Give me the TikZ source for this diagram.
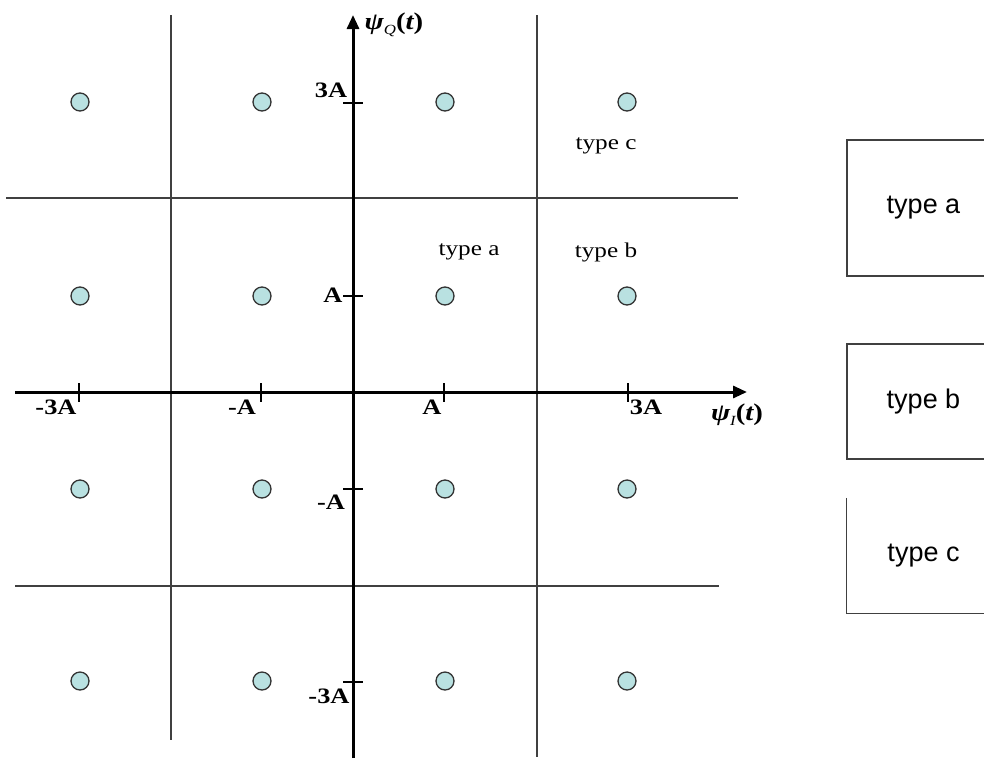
\documentclass[tikz,border=0pt]{standalone}
\usepackage{fontspec}
\setmainfont{Liberation Serif}[FakeStretch=1.2]
\newfontfamily\boxfont{Liberation Sans}
\usetikzlibrary{arrows.meta}
\definecolor{dotfill}{RGB}{185,225,225}
\tikzset{
  dot/.style={circle, draw=black!80, fill=dotfill, line width=1.3pt, minimum size=18pt, inner sep=0pt},
  gridline/.style={line width=1.3pt, black!75},
  axis/.style={line width=3pt, -{Triangle[length=14pt,width=12pt]}},
  tickmark/.style={line width=1.4pt},
  ampl/.style={font=\fontsize{22}{22}\selectfont\bfseries, inner sep=0pt},
  region/.style={font=\fontsize{21}{21}\selectfont, inner sep=0pt},
  typebox/.style={font=\boxfont\fontsize{27}{27}\selectfont, minimum width=153pt, inner sep=0pt},
}
\begin{document}
\begin{tikzpicture}[x=1pt,y=-1pt]
\useasboundingbox (0,0) rectangle (984,758);
% grid lines:
\draw[gridline] (171,15) -- (171,740);
\draw[gridline] (537,15) -- (537,757);
\draw[gridline] (6,198) -- (738,198);
\draw[gridline] (15,586) -- (719,586);
% axes:
\draw[axis] (15,392) -- (747,392);
\draw[axis] (353,758) -- (353,15);
\foreach \x in {79,261,444,628} \draw[tickmark] (\x,383) -- (\x,402);
\foreach \y in {103,296,489,682} \draw[tickmark] (343,\y) -- (363,\y);
% amplitude labels:
\node[ampl] (xm3) at (56,407) {-3A};
\node[ampl] (xm1) at (242,407) {-A};
\node[ampl] (xp1) at (432,407) {A};
\node[ampl] (xp3) at (646,407) {3A};
\node[ampl] (yp3) at (331,90) {3A};
\node[ampl] (yp1) at (333,295) {A};
\node[ampl] (ym1) at (331,502) {-A};
\node[ampl] (ym3) at (329,696) {-3A};
\node[inner sep=0pt, font=\fontsize{24}{24}\selectfont] (psiq) at (394,25)
  {\bfseries\itshape ψ\raisebox{-5pt}{\fontsize{14}{14}\selectfont\mdseries Q}\upshape(\itshape t\upshape)};
\node[inner sep=0pt, font=\fontsize{24}{24}\selectfont] (psii) at (737,415)
  {\bfseries\itshape ψ\raisebox{-5pt}{\fontsize{14}{14}\selectfont\mdseries I}\upshape(\itshape t\upshape)};
% constellation points:
\foreach \x in {80,262,445,627}
  \foreach \y in {102,296,489,681}
    \node[dot] (p\x-\y) at (\x,\y) {};
% region labels:
\node[region] (ra) at (469,252) {type a};
\node[region] (rb) at (606,252) {type b};
\node[region] (rc) at (606,146) {type c};
% legend:
\node[typebox, draw=black!75, line width=1.3pt, minimum height=136pt] (boxa) at (923.5,208) {type a};
\node[typebox, draw=black!75, line width=1.3pt, minimum height=115pt] (boxb) at (923.5,401.5) {type b};
\node[typebox, minimum height=115pt] (boxc) at (923.5,555.5) {type c};
\draw[black!75, line width=1.3pt] (boxc.north west) -- (boxc.south west) -- (boxc.south east);
\end{tikzpicture}
\end{document}
